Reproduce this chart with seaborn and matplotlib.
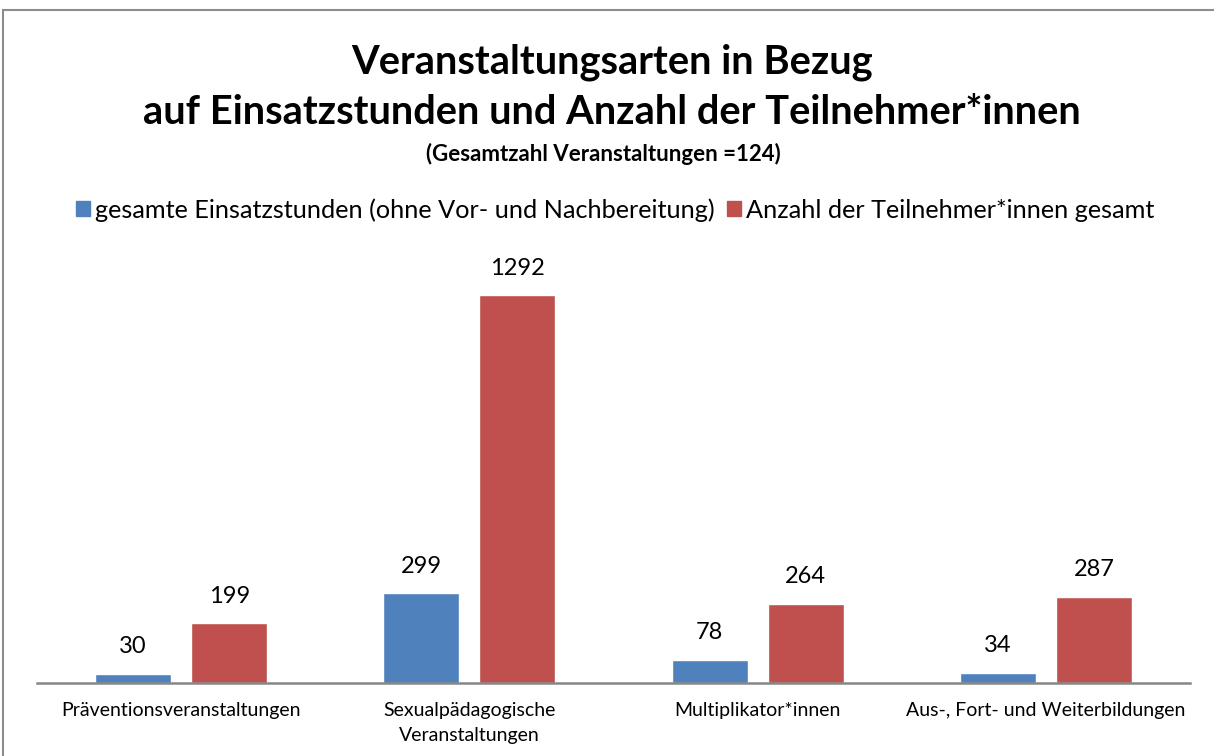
import matplotlib
matplotlib.use("Agg")
import matplotlib.pyplot as plt
import seaborn as sns
import pandas as pd
from matplotlib.patches import Rectangle, Patch

categories = ["Präventionsveranstaltungen", "Sexualpädagogische\nVeranstaltungen",
              "Multiplikator*innen", "Aus-, Fort- und Weiterbildungen"]
series_names = ["gesamte Einsatzstunden (ohne Vor- und Nachbereitung)",
                "Anzahl der Teilnehmer*innen gesamt"]
stunden = [30, 299, 78, 34]
teilnehmer = [199, 1292, 264, 287]
colors = ["#4F81BD", "#C0504D"]

df = pd.DataFrame({
    "Kategorie": categories * 2,
    "Serie": [series_names[0]] * len(categories) + [series_names[1]] * len(categories),
    "Wert": stunden + teilnehmer,
})

sns.set_theme(style="white")
plt.rcParams['font.family'] = ['Lato', 'DejaVu Sans']
plt.rcParams['text.color'] = 'black'

fig = plt.figure(figsize=(12.14, 7.56), dpi=100)
ax = fig.add_axes([37/1214, 1 - 683/756, (1190-37)/1214, 420/756])

sns.barplot(data=df, x="Kategorie", y="Wert", hue="Serie", order=categories,
            hue_order=series_names, palette=colors, width=0.667, gap=0.21,
            saturation=1, ax=ax, legend=False)

ax.set_ylim(0, 1400)
ax.set_xlim(-0.5, len(categories) - 0.5)
ax.set_xlabel("")
ax.set_ylabel("")
ax.set_yticks([])
for s in ["top", "right", "left"]:
    ax.spines[s].set_visible(False)
ax.spines["bottom"].set_color("#868686")
ax.spines["bottom"].set_linewidth(1.8)
ax.tick_params(axis="x", length=0, pad=14, labelsize=14, colors="black")
for lbl in ax.get_xticklabels():
    lbl.set_linespacing(1.55)

for container in ax.containers:
    ax.bar_label(container, fmt="%d", padding=12, fontsize=17, color="black")

fig.text(0.504, 1 - 62/756, "Veranstaltungsarten in Bezug", ha="center", va="center",
         fontsize=28.7, fontweight="bold", color="black")
fig.text(0.504, 1 - 113/756, "auf Einsatzstunden und Anzahl der Teilnehmer*innen",
         ha="center", va="center", fontsize=28.7, fontweight="bold", color="black")
fig.text(0.497, 1 - 154/756, "(Gesamtzahl Veranstaltungen =124)", ha="center", va="center",
         fontsize=16, fontweight="bold", color="black")

handles = [Patch(facecolor=c, edgecolor=c) for c in colors]
fig.legend(handles, series_names, loc="center", bbox_to_anchor=(0.507, 1 - 210/756),
           ncol=2, frameon=False, fontsize=18.2, handlelength=0.55, handleheight=0.55,
           handletextpad=0.2, columnspacing=0.5, labelcolor="black")

fig.patches.append(Rectangle((3/1214, -0.05), 1.1, 1 - 10/756 + 0.05,
                             transform=fig.transFigure, fill=False,
                             edgecolor="#8c8c8c", linewidth=1.5))

fig.savefig("out.png", dpi=100)
